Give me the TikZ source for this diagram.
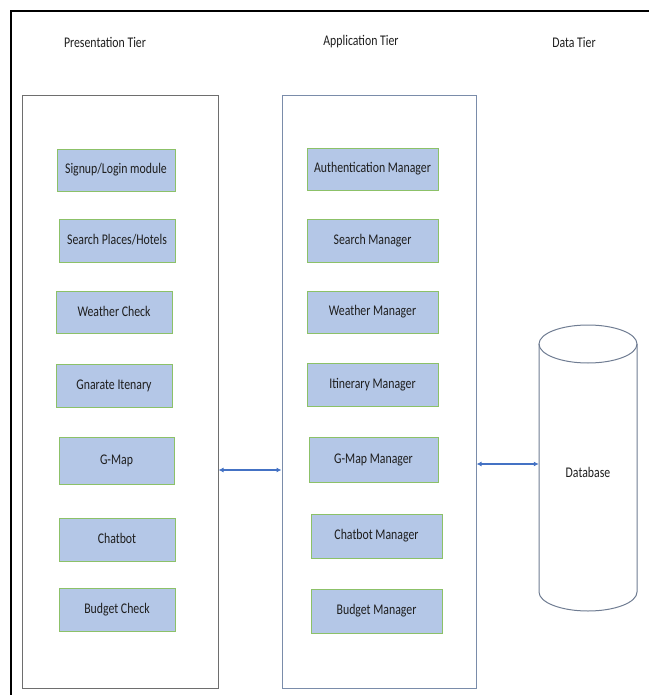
\documentclass[tikz,border=0pt]{standalone}
\usepackage{fontspec}
\usepackage{graphicx}
\setmainfont{Carlito}
\usetikzlibrary{arrows.meta,calc}
\definecolor{boxfill}{HTML}{B4C7E7}
\definecolor{boxline}{HTML}{8CC168}
\definecolor{presline}{HTML}{6E6E6E}
\definecolor{appline}{HTML}{7A8CAA}
\definecolor{arrblue}{HTML}{4472C4}
\definecolor{cylline}{HTML}{6F7C92}
\definecolor{txt}{HTML}{1E1E1E}
\newcommand\tallt[1]{\scalebox{1}[1.25]{#1}}
\tikzset{
  ibox/.style={draw=boxline, fill=boxfill, line width=0.9pt, inner sep=0pt,
    font=\fontsize{11.8}{13}\selectfont, text=txt},
  tier/.style={draw=#1, line width=1pt, inner sep=0pt},
  ttl/.style={font=\fontsize{11.8}{13}\selectfont, text=txt, inner sep=0pt},
  biarr/.style={draw=arrblue, line width=1.2pt, {Latex[length=5pt,width=5pt]}-{Latex[length=5pt,width=5pt]}},
}
\newcommand\ibx[6]{\node[ibox, minimum width={#4-#2}, minimum height={#5-#3}] (#1) at ({(#2+#4)/2},{(#3+#5)/2}) {\raisebox{2pt}{\tallt{#6}}};}
\begin{document}
\begin{tikzpicture}[x=1pt,y=-1pt]
\useasboundingbox (0,0) rectangle (649,695);
% outer frame (cut at right and bottom)
\draw[line width=2pt, black] (11,695) -- (11,11) -- (649,11);
% titles
\node[ttl] (t1) at (105,42) {\tallt{Presentation Tier}};
\node[ttl] (t2) at (361,42) {\tallt{Application Tier}};
\node[ttl] (t3) at (574,42) {\tallt{Data Tier}};
% tier boxes
\node[tier=presline, minimum width=196pt, minimum height=592pt] (pres) at (120,392) {};
\node[tier=appline, minimum width=194pt, minimum height=592pt] (app) at (379,392) {};
% presentation boxes
\ibx{p1}{57}{149}{175}{191}{Signup/Login module}
\ibx{p2}{59}{219}{175}{262}{Search Places/Hotels}
\ibx{p3}{56}{291}{172}{333}{Weather Check}
\ibx{p4}{56}{364}{172}{407}{Gnarate Itenary}
\ibx{p5}{59}{437}{174}{484}{G-Map}
\ibx{p6}{59}{518}{175}{561}{Chatbot}
\ibx{p7}{59}{588}{175}{631}{Budget Check}
% application boxes
\ibx{a1}{307}{148}{438}{190}{Authentication Manager}
\ibx{a2}{307}{219}{438}{262}{Search Manager}
\ibx{a3}{307}{291}{438}{333}{Weather Manager}
\ibx{a4}{307}{363}{438}{406}{Itinerary Manager}
\ibx{a5}{309}{437}{438}{482}{G-Map Manager}
\ibx{a6}{311}{514}{442}{558}{Chatbot Manager}
\ibx{a7}{311}{589}{442}{633}{Budget Manager}
% database cylinder
\draw[cylline, line width=1pt] (539,344) -- (539,592) arc[start angle=180, end angle=360, x radius=49pt, y radius=19pt] -- (637,344);
\draw[cylline, line width=1pt] (588,344) ellipse [x radius=49pt, y radius=19pt];
\node[inner sep=0pt, minimum width=98pt, minimum height=40pt, font=\fontsize{11.8}{13}\selectfont, text=txt] (db) at (588,472) {\tallt{Database}};
% connectors
\coordinate (y1) at (0,470);
\coordinate (y2) at (0,464);
\draw[biarr] (pres.east |- y1) -- (app.west |- y1);
\draw[biarr] (app.east |- y2) -- (db.west |- y2);
\end{tikzpicture}
\end{document}
